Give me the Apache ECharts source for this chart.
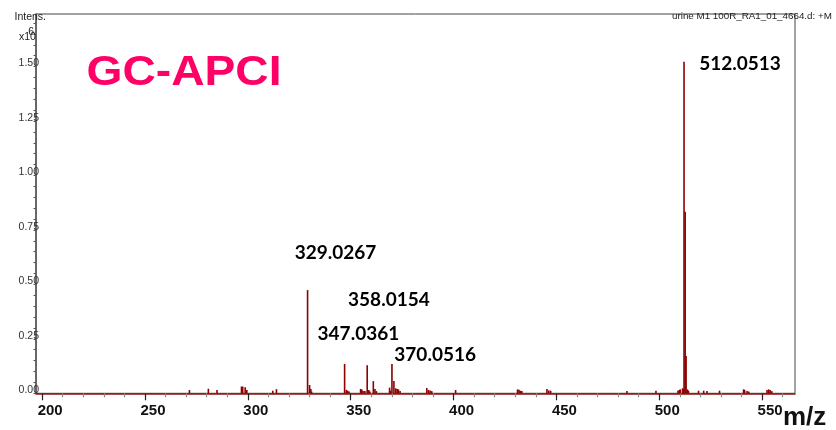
<!DOCTYPE html>
<html>
<head>
<meta charset="utf-8">
<script src="https://cdn.jsdelivr.net/npm/echarts@6/dist/echarts.min.js"></script>
<style>
html,body{margin:0;padding:0;background:#fff;}
#chart{width:836px;height:430px;}
</style>
</head>
<body>
<div id="chart"></div>
<script>
// ---- data (intensity in units of 10^6) ----
var peakMz = [
  271.6, 280.8, 285.0, 296.9, 297.5, 298.7, 299.5, 312.1, 313.9,
  329.0267, 330.0, 330.6, 331.0,
  347.0361, 347.9, 348.5, 349.2,
  354.8, 355.4, 356.0, 356.9, 358.0154, 358.8, 359.3,
  361.0, 361.8, 362.5,
  368.9, 369.3, 370.0516, 371.0, 371.9, 372.6, 373.2, 374.0,
  387.0, 387.8, 388.6, 389.4, 401.0,
  431.1, 431.8, 432.4, 433.2, 445.4, 446.3, 447.2,
  484.3, 498.4, 509.1, 509.7, 510.2, 511.3, 511.6,
  512.0513, 512.6, 513.05, 513.7, 514.2,
  519.1, 521.6, 523.2, 529.3,
  541.0, 541.5, 542.7, 543.5,
  552.4, 553.2, 553.9, 554.7
];
var peakIntensity = [
  0.015, 0.021, 0.015, 0.031, 0.031, 0.028, 0.015, 0.012, 0.019,
  0.474, 0.038, 0.020, 0.008,
  0.135, 0.016, 0.012, 0.008,
  0.020, 0.018, 0.010, 0.010, 0.129, 0.015, 0.008,
  0.056, 0.020, 0.010,
  0.026, 0.012, 0.135, 0.056, 0.023, 0.020, 0.018, 0.010,
  0.024, 0.015, 0.013, 0.010, 0.015,
  0.018, 0.016, 0.012, 0.010, 0.020, 0.013, 0.012,
  0.010, 0.012, 0.012, 0.015, 0.018, 0.023, 0.020,
  1.522, 0.834, 0.171, 0.018, 0.012,
  0.012, 0.012, 0.010, 0.012,
  0.018, 0.016, 0.010, 0.008,
  0.015, 0.018, 0.015, 0.010
];
var labelMz = [512.0513, 329.0267, 358.0154, 347.0361, 370.0516];
var labelIntensity = [1.522, 0.474, 0.129, 0.135, 0.135];
var xTickLabels = [200, 250, 300, 350, 400, 450, 500, 550];
var xMinorTicks = [200,210,220,230,240,250,260,270,280,290,300,310,320,330,340,350,360,370,380,390,400,410,420,430,440,450,460,470,480,490,500,510,520,530,540,550,560];
var yTickLabels = [0, 0.25, 0.5, 0.75, 1.0, 1.25, 1.5];
var yMinorTicks = [0,0.05,0.1,0.15,0.2,0.25,0.3,0.35,0.4,0.45,0.5,0.55,0.6,0.65,0.7,0.75,0.8,0.85,0.9,0.95,1.0,1.05,1.1,1.15,1.2,1.25,1.3,1.35,1.4,1.45,1.5,1.55,1.6,1.65,1.7];

// label offsets (pixels, relative to peak top) — styling only
var labelOffsets = [[56, 2], [28, -37.5], [21.7, -65.8], [13.8, -30.2], [43.2, -9.4]];

var chart = echarts.init(document.getElementById('chart'), null, {renderer: 'canvas'});

var barData = peakMz.map(function (m, i) { return [m, peakIntensity[i]]; });
var labelData = labelMz.map(function (m, i) {
  return {
    value: [m, labelIntensity[i]],
    label: {
      show: true, position: 'inside', offset: labelOffsets[i],
      formatter: m.toFixed(4), opacity: 1, textBorderWidth: 0,
      fontFamily: 'Lato', fontWeight: 'bold', fontSize: 19, color: '#000'
    }
  };
});

var option = {
  animation: false,
  backgroundColor: '#fff',
  grid: {left: 36, right: 41, top: 14, bottom: 36.7, show: true, borderColor: '#444', borderWidth: 1},
  xAxis: [{
    type: 'value', min: 197, max: 566,
    axisLine: {show: true, lineStyle: {color: '#8b1010', width: 1.6}},
    axisTick: {show: true, customValues: xMinorTicks, length: 4, lineStyle: {color: '#888', width: 1.2}},
    axisLabel: {show: false},
    splitLine: {show: false}
  }, {
    type: 'value', min: 197, max: 566, position: 'bottom',
    axisLine: {show: false},
    axisTick: {show: true, customValues: xTickLabels, length: 7, lineStyle: {color: '#222', width: 1.2}},
    axisLabel: {
      show: true, customValues: xTickLabels, margin: 10,
      padding: [0, 0, 0, 16],
      fontFamily: 'Liberation Sans, Arial', fontWeight: 'bold', fontSize: 15, color: '#111'
    },
    splitLine: {show: false}
  }],
  yAxis: {
    type: 'value', min: 0, max: 1.7415,
    axisLine: {show: true, lineStyle: {color: '#555', width: 1.5}},
    axisTick: {show: true, customValues: yMinorTicks, length: 2.5, lineStyle: {color: '#555', width: 1}},
    axisLabel: {
      show: true, customValues: yTickLabels, margin: -3,
      verticalAlign: 'bottom', lineHeight: 6,
      formatter: function (v) { return v.toFixed(2); },
      fontFamily: 'Liberation Sans, Arial', fontSize: 10.5, color: '#333'
    },
    splitLine: {show: false}
  },
  series: [{
    type: 'bar', xAxisIndex: 0, data: barData, barWidth: 1.6,
    itemStyle: {color: '#8b0000'}, z: 3
  }, {
    type: 'scatter', xAxisIndex: 0, data: labelData, symbolSize: 0, z: 4, silent: true,
    itemStyle: {opacity: 1, color: '#000'}
  }],
  graphic: [
    {type: 'text', x: 86.5, y: 52, scaleX: 1.1, z: 10,
     style: {text: 'GC-APCI', x: 0, y: 0, fill: '#ff0066',
       font: 'bold 42px "Liberation Sans", Arial', textVerticalAlign: 'top'}},
    {type: 'text', x: 14.5, y: 17, z: 10,
     style: {text: 'Intens.', fill: '#222', font: '10.5px "Liberation Sans", Arial', textVerticalAlign: 'middle'}},
    {type: 'text', x: 19, y: 37.5, z: 10,
     style: {text: 'x10', fill: '#222', font: '10.5px "Liberation Sans", Arial', textVerticalAlign: 'middle'}},
    {type: 'text', x: 28.3, y: 31.8, z: 10,
     style: {text: '6', fill: '#222', font: '10.5px "Liberation Sans", Arial', textVerticalAlign: 'middle'}},
    {type: 'text', x: 672, y: 16, z: 10,
     style: {text: 'urine M1 100R_RA1_01_4664.d: +M', fill: '#222', font: '9.8px "Liberation Sans", Arial', textVerticalAlign: 'middle'}},
    {type: 'text', x: 783, y: 418, z: 10,
     style: {text: 'm/z', fill: '#111', font: 'bold 26px "Liberation Sans", Arial', textVerticalAlign: 'middle'}}
  ]
};
chart.setOption(option);
</script>
</body>
</html>
